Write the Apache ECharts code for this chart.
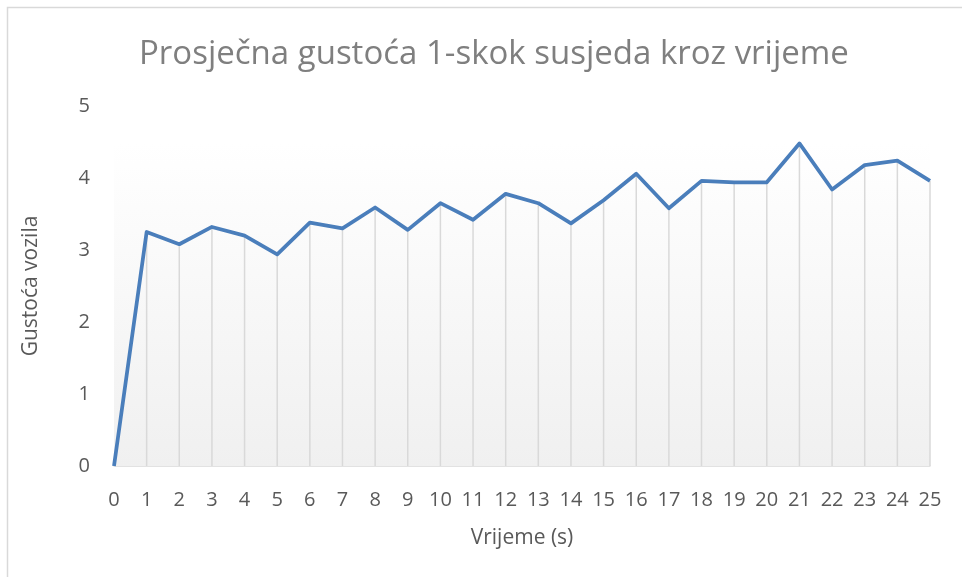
<!DOCTYPE html>
<html>
<head>
<meta charset="utf-8">
<script src="https://cdn.jsdelivr.net/npm/echarts@6/dist/echarts.min.js"></script>
<style>
    html, body { margin: 0; padding: 0; background: #fff; }
    #chart { width: 962px; height: 577px; }
</style>
</head>
<body>
<div id="chart"></div>
<script>
const seconds = ['0', '1', '2', '3', '4', '5', '6', '7', '8', '9', '10', '11', '12',
    '13', '14', '15', '16', '17', '18', '19', '20', '21', '22', '23', '24', '25']
const density = [0, 3.25, 3.08, 3.32, 3.2, 2.94, 3.38, 3.3, 3.59, 3.28, 3.65, 3.42, 3.78,
    3.65, 3.37, 3.69, 4.06, 3.58, 3.96, 3.94, 3.94, 4.48, 3.84, 4.18, 4.24, 3.96]

const chartTitle = 'Prosječna gustoća 1-skok susjeda kroz vrijeme'
const xName = 'Vrijeme (s)'
const yName = 'Gustoća vozila'

const font = '"Open Sans", sans-serif'
const chart = echarts.init(document.getElementById('chart'))

chart.setOption({
    animation: false,
    graphic: [{
        type: 'rect',
        shape: { x: 7.5, y: 7.5, width: 1000, height: 1000 },
        style: { fill: 'none', stroke: '#d9d9d9', lineWidth: 1.5 },
        silent: true
    }],
    title: {
        text: chartTitle,
        left: 134,
        top: 33,
        textStyle: { color: '#7f7f7f', fontSize: 33, fontWeight: 'normal', fontFamily: font }
    },
    grid: { left: 114, right: 32, top: 106, bottom: 111 },
    xAxis: {
        type: 'category',
        data: seconds,
        boundaryGap: false,
        name: xName,
        nameLocation: 'middle',
        nameGap: 62,
        nameTextStyle: { color: '#595959', fontSize: 21, fontFamily: font },
        axisLine: { lineStyle: { color: '#d9d9d9', width: 1.5 } },
        axisTick: { show: false },
        axisLabel: { color: '#595959', fontSize: 20, fontFamily: font, margin: 24, interval: 0 },
        splitLine: { show: false }
    },
    yAxis: {
        type: 'value',
        min: 0,
        max: 5,
        interval: 1,
        name: yName,
        nameLocation: 'middle',
        nameGap: 72,
        nameTextStyle: { color: '#595959', fontSize: 21, fontFamily: font },
        axisLine: { show: false },
        axisTick: { show: false },
        axisLabel: { color: '#595959', fontSize: 20, fontFamily: font, margin: 24 },
        splitLine: { show: false }
    },
    series: [{
        type: 'bar',
        data: density,
        barWidth: 1.5,
        silent: true,
        itemStyle: { color: '#d9d9d9' },
        markArea: {
            silent: true,
            itemStyle: {
                color: new echarts.graphic.LinearGradient(0, 0, 0, 1, [
                    { offset: 0, color: '#ffffff' },
                    { offset: 1, color: '#f0f0f0' }
                ])
            },
            data: [[
                { xAxis: seconds[0], yAxis: Math.max(...density) },
                { xAxis: seconds[seconds.length - 1], yAxis: 0 }
            ]]
        },
        z: 1
    }, {
        type: 'line',
        data: density,
        symbol: 'none',
        lineStyle: { color: '#4a7ebb', width: 3.75, join: 'round' },
        z: 3
    }]
})
</script>
</body>
</html>
